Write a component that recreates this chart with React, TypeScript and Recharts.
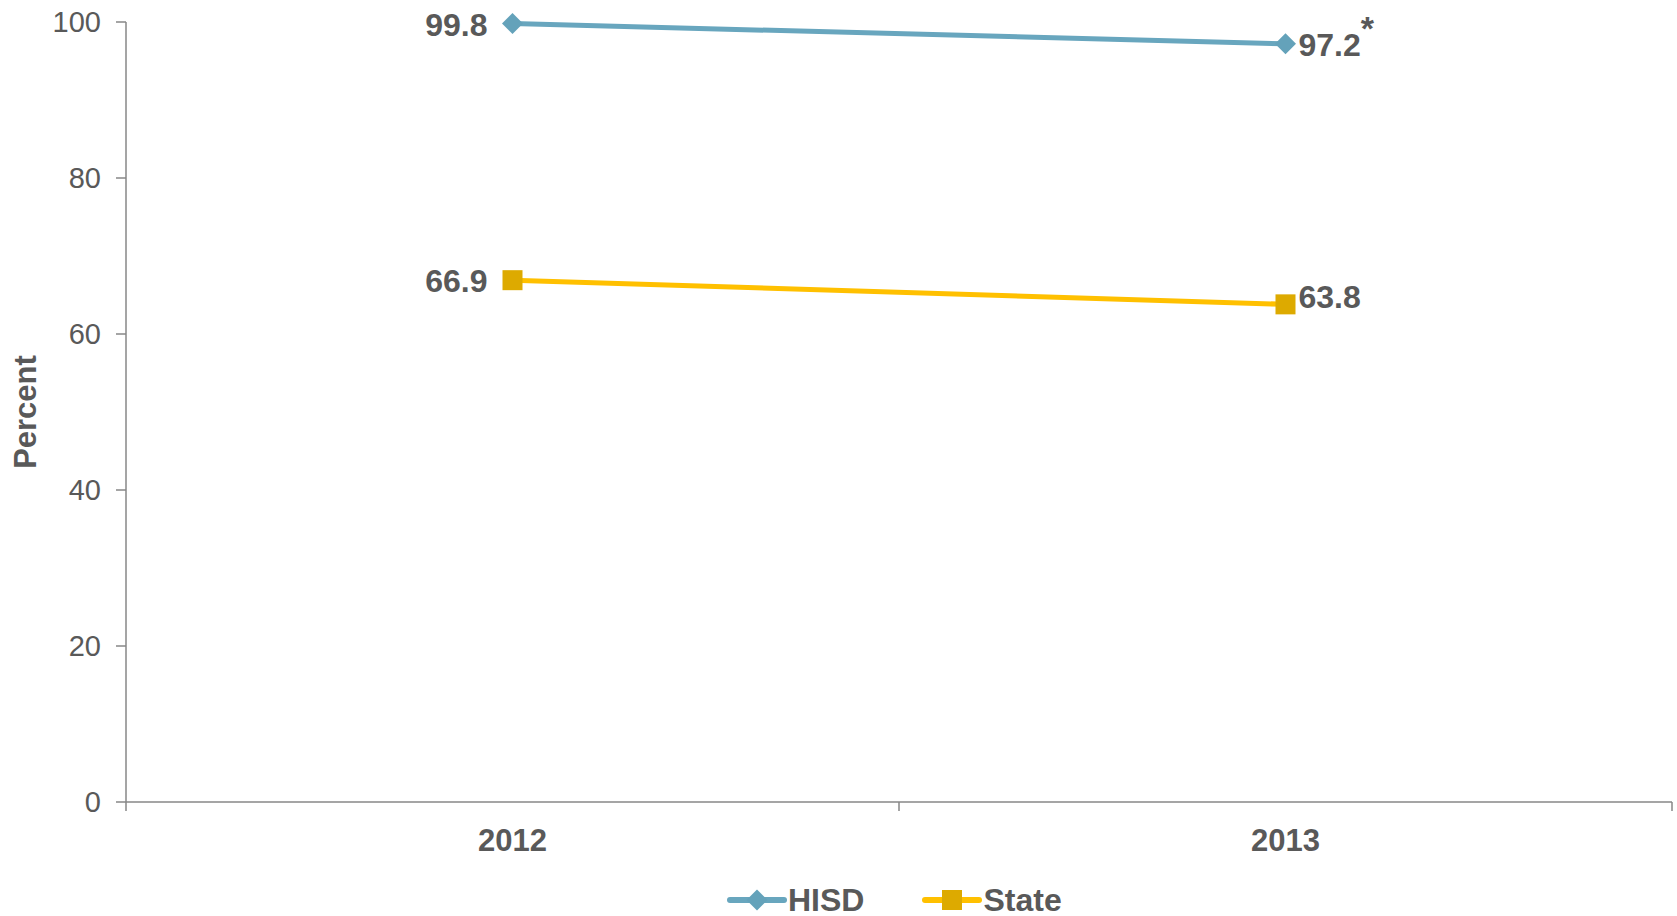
import React from 'react'
import { LineChart, Line, XAxis, YAxis, LabelList } from 'recharts'

// values
const years = ['2012', '2013']
const hisdValues = [99.8, 97.2]
const stateValues = [66.9, 63.8]
const hisdNotes = ['', '*']
const stateNotes = ['', '']
const yTicks = [0, 20, 40, 60, 80, 100]

const W = 1677
const H = 916
const PLOT_LEFT = 126
const PLOT_RIGHT = 1672
const BAND = (PLOT_RIGHT - PLOT_LEFT) / years.length
const FONT = '"Liberation Sans", Arial, sans-serif'
const TEXT = '#595959'
const AXIS = '#878787'
const HISD_LINE = '#68A6BE'
const HISD_DOT = '#64A2BA'
const STATE_LINE = '#FFC000'
const STATE_DOT = '#DDAA00'

const data = years.map((year, i) => ({ year, hisd: hisdValues[i], state: stateValues[i] }))

const diamondPath = (cx: number, cy: number, r: number) =>
  `M${cx},${cy - r} L${cx + r},${cy} L${cx},${cy + r} L${cx - r},${cy} Z`

const DiamondDot = (props: any) => {
  const { cx, cy, index } = props
  if (cx == null || cy == null) return <g key={`d-${index}`} />
  return <path key={`d-${index}`} d={diamondPath(cx, cy, 10.5)} fill={HISD_DOT} />
}

const SquareDot = (props: any) => {
  const { cx, cy, index } = props
  if (cx == null || cy == null) return <g key={`s-${index}`} />
  return <rect key={`s-${index}`} x={cx - 10} y={cy - 10} width={20} height={20} fill={STATE_DOT} />
}

// the right-hand State label sits a little above its marker in the original
const makeLabel = (notes: string[], raiseLast = 0) => (props: any) => {
  const { x, y, value, index } = props
  const left = index === 0
  const note = notes[index]
  return (
    <text
      x={left ? x - 25 : x + 13}
      y={y + 1 - (left ? 0 : raiseLast)}
      textAnchor={left ? 'end' : 'start'}
      dominantBaseline="central"
      fontFamily={FONT}
      fontWeight="bold"
      fontSize={32}
      fill={TEXT}
    >
      {Number(value).toFixed(1)}
      {note ? (
        <tspan dy={-17} fontSize={34}>
          {note}
        </tspan>
      ) : null}
    </text>
  )
}

const XTick = (props: any) => {
  const { x, y, payload, index } = props
  const last = index === years.length - 1
  return (
    <g>
      <line x1={x - BAND / 2} x2={x - BAND / 2} y1={y} y2={y + 9} stroke={AXIS} strokeWidth={1.5} />
      {last && <line x1={x + BAND / 2} x2={x + BAND / 2} y1={y} y2={y + 9} stroke={AXIS} strokeWidth={1.5} />}
      <text
        x={x}
        y={y + 38}
        textAnchor="middle"
        dominantBaseline="central"
        fontFamily={FONT}
        fontWeight="bold"
        fontSize={31}
        fill={TEXT}
      >
        {payload.value}
      </text>
    </g>
  )
}

const PercentLabel = (props: any) => {
  const vb = props.viewBox || { x: 0, y: 22, width: 126, height: 780 }
  const cx = vb.x + 25
  const cy = vb.y + vb.height / 2
  return (
    <text
      x={cx}
      y={cy}
      transform={`rotate(-90, ${cx}, ${cy})`}
      textAnchor="middle"
      dominantBaseline="central"
      fontFamily={FONT}
      fontWeight="bold"
      fontSize={31}
      fill={TEXT}
    >
      Percent
    </text>
  )
}

const legendItems = [
  { name: 'HISD', line: HISD_LINE, marker: 'diamond' },
  { name: 'State', line: STATE_LINE, marker: 'square' },
]

function LegendRow() {
  return (
    <div
      style={{
        position: 'absolute',
        left: 727,
        top: 881,
        height: 38,
        display: 'flex',
        alignItems: 'center',
        fontFamily: FONT,
        fontWeight: 'bold',
        fontSize: 32,
        color: TEXT,
      }}
    >
      {legendItems.map((item, i) => (
        <div key={item.name} style={{ display: 'flex', alignItems: 'center', marginLeft: i === 0 ? 0 : 58 }}>
          <svg width={60} height={24} style={{ display: 'block' }}>
            <line x1={3} x2={57} y1={12} y2={12} stroke={item.line} strokeWidth={6} strokeLinecap="round" />
            {item.marker === 'diamond' ? (
              <path d={diamondPath(30, 12, 10.5)} fill={HISD_DOT} />
            ) : (
              <rect x={20} y={2} width={20} height={20} fill={STATE_DOT} />
            )}
          </svg>
          <span style={{ marginLeft: 1, lineHeight: '38px' }}>{item.name}</span>
        </div>
      ))}
    </div>
  )
}

export default function App() {
  return (
    <div style={{ position: 'absolute', left: 0, top: 0, width: W, height: H, background: '#fff' }}>
      <LineChart width={W} height={H} data={data} margin={{ top: 22, right: W - PLOT_RIGHT, bottom: 0, left: 0 }}>
        <XAxis
          dataKey="year"
          height={114}
          padding={{ left: BAND / 2, right: BAND / 2 }}
          axisLine={{ stroke: AXIS, strokeWidth: 1.5 }}
          tickLine={false}
          tickSize={0}
          tickMargin={0}
          tick={<XTick />}
          interval={0}
        />
        <YAxis
          width={PLOT_LEFT}
          domain={[0, 100]}
          ticks={yTicks}
          interval={0}
          axisLine={{ stroke: AXIS, strokeWidth: 1.5 }}
          tickLine={{ stroke: AXIS, strokeWidth: 1.5 }}
          tickSize={10}
          tickMargin={15}
          tick={{ fontFamily: FONT, fontSize: 29, fill: TEXT }}
          label={<PercentLabel />}
        />
        <Line
          dataKey="hisd"
          name="HISD"
          stroke={HISD_LINE}
          strokeWidth={5}
          dot={DiamondDot}
          activeDot={false}
          isAnimationActive={false}
        >
          <LabelList dataKey="hisd" content={makeLabel(hisdNotes)} />
        </Line>
        <Line
          dataKey="state"
          name="State"
          stroke={STATE_LINE}
          strokeWidth={5}
          dot={SquareDot}
          activeDot={false}
          isAnimationActive={false}
        >
          <LabelList dataKey="state" content={makeLabel(stateNotes, 8)} />
        </Line>
      </LineChart>
      <LegendRow />
    </div>
  )
}
